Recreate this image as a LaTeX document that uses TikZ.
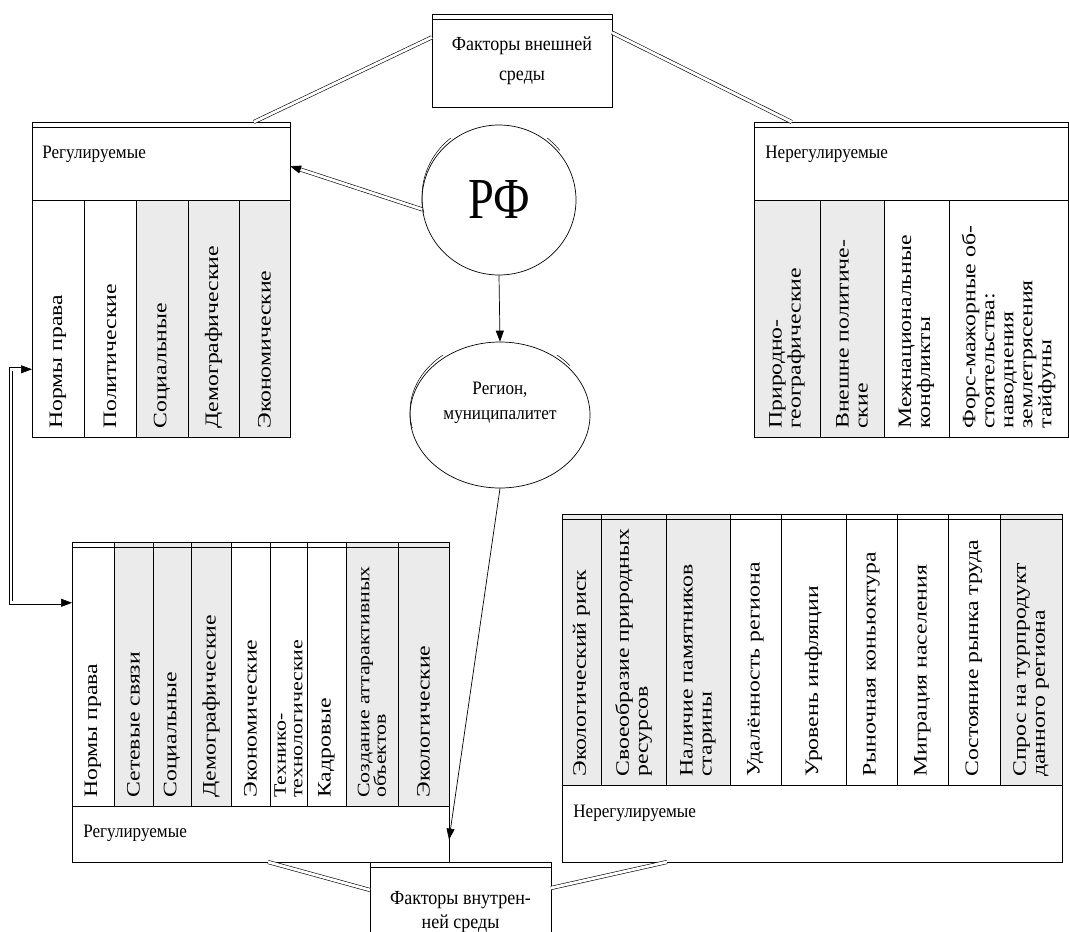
\documentclass[tikz,border=0pt]{standalone}
\usepackage{fontspec}
\setmainfont{Liberation Serif}
\newfontfamily\colfont[FakeStretch=1.25]{Liberation Serif}
\newfontfamily\narrowfont[FakeStretch=0.9]{Liberation Serif}
\newfontfamily\rffont[FakeStretch=0.8]{Liberation Serif}
\usetikzlibrary{arrows.meta,shapes.geometric,calc}

\tikzset{
  boxframe/.style={draw, line width=0.8pt, inner sep=0pt, outer sep=0pt},
  dbl/.style={double, double distance=2.8pt, line width=0.6pt},
  arr/.style={-{Triangle[length=11pt,width=8pt]}},
  coltext/.style={rotate=90, anchor=west, align=left, inner sep=0pt,
    font=\colfont\fontsize{19}{19}\selectfont},
  smalltext/.style={coltext, font=\colfont\fontsize{17.5}{16.5}\selectfont},
  headtext/.style={anchor=west, inner sep=0pt, font=\narrowfont\fontsize{19}{20}\selectfont},
  stip/.style={fill=black!8},
}

\begin{document}
\begin{tikzpicture}[x=1pt, y=-1pt, line width=0.7pt]
  \useasboundingbox (0,0) rectangle (1069,932);
  \clip (0,0) rectangle (1069,932);

  %% External factors
  \node[boxframe, minimum width=180pt, minimum height=93pt, align=center,
    font=\narrowfont\fontsize{20}{30}\selectfont] (outer) at (522,60.5) {Факторы внешней\\среды};
  \draw (432,19) -- (612,19);

  %% Regulated (external)
  \fill[stip] (136,200) rectangle (290,437);
  \node[boxframe, minimum width=258pt, minimum height=315pt] (reg) at (161,279.5) {};
  \draw (32,127) -- (290,127);
  \draw (32,200) -- (290,200);
  \draw (84,200) -- (84,437) (136,200) -- (136,437) (188,200) -- (188,437) (239,200) -- (239,437);
  \node[headtext] (reghd) at (42,154) {Регулируемые};
  \node[coltext] (reg1) at (58,429) {Нормы права};
  \node[coltext] (reg2) at (110,429) {Политические};
  \node[coltext] (reg3) at (162,429) {Социальные};
  \node[coltext] (reg4) at (213.5,429) {Демографические};
  \node[coltext] (reg5) at (264.5,429) {Экономические};

  %% Unregulated (external)
  \fill[stip] (754,200) rectangle (884,437);
  \node[boxframe, minimum width=314pt, minimum height=315pt] (unreg) at (911,279.5) {};
  \draw (754,127) -- (1068,127);
  \draw (754,200) -- (1068,200);
  \draw (820,200) -- (820,437) (884,200) -- (884,437) (949,200) -- (949,437);
  \node[headtext] (unreghd) at (765,154) {Нерегулируемые};
  \node[coltext] (unreg1) at (787,429) {Природно-\\географические};
  \node[coltext] (unreg2) at (852,429) {Внешне политиче-\\ские};
  \node[coltext] (unreg3) at (916.5,429) {Межнациональные\\конфликты};
  \node[coltext] (unreg4) at (1008.5,429) {Форс-мажорные об-\\стоятельства:\\наводнения\\землетрясения\\тайфуны};

  %% Centre: RF and region
  \node[ellipse, draw, minimum width=154pt, minimum height=150pt, inner sep=0pt,
    font=\rffont\fontsize{58}{58}\selectfont] (rf) at (499,200) {РФ};
  \begin{scope}
    \clip ([xshift=-6pt,yshift=-12pt]rf.west) rectangle ([xshift=6pt,yshift=8pt]rf.north east);
    \draw[line width=0.5pt] ([yshift=3.5pt]rf.center) ellipse [x radius=77, y radius=75];
  \end{scope}
  \node[ellipse, draw, minimum width=180pt, minimum height=146pt, inner sep=0pt, align=center,
    font=\narrowfont\fontsize{19}{25}\selectfont] (region) at (500,415) {Регион,\\муниципалитет\\[4pt]};
  \begin{scope}
    \clip ([xshift=-6pt,yshift=-12pt]region.west) rectangle ([xshift=6pt,yshift=8pt]region.north east);
    \draw[line width=0.5pt] ([yshift=3.5pt]region.center) ellipse [x radius=90, y radius=73];
  \end{scope}

  %% Regulated (internal)
  \fill[stip] (114,542) rectangle (231,806) (346,542) rectangle (449,806);
  \node[boxframe, minimum width=377pt, minimum height=320pt] (ireg) at (260.5,702) {};
  \draw (72,547) -- (449,547);
  \draw (72,806) -- (449,806);
  \draw (114,542) -- (114,806) (153,542) -- (153,806) (191,542) -- (191,806) (231,542) -- (231,806)
        (270,542) -- (270,806) (307,542) -- (307,806) (346,542) -- (346,806) (398,542) -- (398,806);
  \node[headtext] (ireghd) at (83,833) {Регулируемые};
  \node[coltext] (ireg1) at (93,798) {Нормы права};
  \node[coltext] (ireg2) at (133.5,798) {Сетевые связи};
  \node[coltext] (ireg3) at (172,798) {Социальные};
  \node[coltext] (ireg4) at (211,798) {Демографические};
  \node[coltext] (ireg5) at (250.5,798) {Экономические};
  \node[smalltext] (ireg6) at (288.5,798) {Технико-\\технологические};
  \node[coltext] (ireg7) at (326.5,798) {Кадровые};
  \node[smalltext] (ireg8) at (372,798) {Создание аттарактивных\\объектов};
  \node[coltext] (ireg9) at (423.5,798) {Экологические};

  %% Unregulated (internal)
  \fill[stip] (562,514) rectangle (730,785) (1000,514) rectangle (1062,785);
  \node[boxframe, minimum width=500pt, minimum height=348pt] (iunreg) at (812,688) {};
  \draw (562,519) -- (1062,519);
  \draw (562,785) -- (1062,785);
  \draw (601,514) -- (601,785) (666,514) -- (666,785) (730,514) -- (730,785) (781,514) -- (781,785)
        (846,514) -- (846,785) (897,514) -- (897,785) (948,514) -- (948,785) (1000,514) -- (1000,785);
  \node[headtext] (iunreghd) at (573,813) {Нерегулируемые};
  \node[coltext] (iunreg1) at (581.5,777) {Экологический риск};
  \node[coltext] (iunreg2) at (633.5,777) {Своеобразие природных\\ресурсов};
  \node[coltext] (iunreg3) at (698,777) {Наличие памятников\\старины};
  \node[coltext] (iunreg4) at (755.5,777) {Удалённость региона};
  \node[coltext] (iunreg5) at (813.5,777) {Уровень инфляции};
  \node[coltext] (iunreg6) at (871.5,777) {Рыночная коньюктура};
  \node[coltext] (iunreg7) at (922.5,777) {Миграция населения};
  \node[coltext] (iunreg8) at (974,777) {Состояние рынка труда};
  \node[coltext] (iunreg9) at (1031,777) {Спрос на турпродукт\\данного региона};

  %% Internal factors
  \node[boxframe, minimum width=181pt, minimum height=100pt, align=center,
    font=\narrowfont\fontsize{20}{24}\selectfont] (inner) at (460.5,912) {Факторы внутрен-\\ней среды};
  \draw (370,867) -- (551,867);

  %% Connectors
  \draw[dbl] ($(outer.north west)!0.25!(outer.south west)$) -- ($(reg.north west)!0.86!(reg.north east)$);
  \draw[dbl] ($(outer.north east)!0.2!(outer.south east)$) -- ($(unreg.north west)!0.12!(unreg.north east)$);
  \draw[dbl, arr] (rf.187) -- ($(reg.north east)!0.14!(reg.south east)$);
  \draw[arr] (rf.south) -- (region.north);
  \draw[arr] (region.south) -- ($(ireg.north east)!0.93!(ireg.south east)$);
  \draw[dbl, {Triangle[length=11pt,width=8pt]}-{Triangle[length=11pt,width=8pt]}]
    ($(reg.north west)!0.785!(reg.south west)$) -- ++(-21,0) |- ($(ireg.north west)!0.19!(ireg.south west)$);
  \draw[dbl] ($(ireg.south west)!0.52!(ireg.south east)$) -- ($(inner.north west)!0.28!(inner.south west)$);
  \draw[dbl] ($(iunreg.south west)!0.21!(iunreg.south east)$) -- ($(inner.north east)!0.26!(inner.south east)$);
\end{tikzpicture}
\end{document}
